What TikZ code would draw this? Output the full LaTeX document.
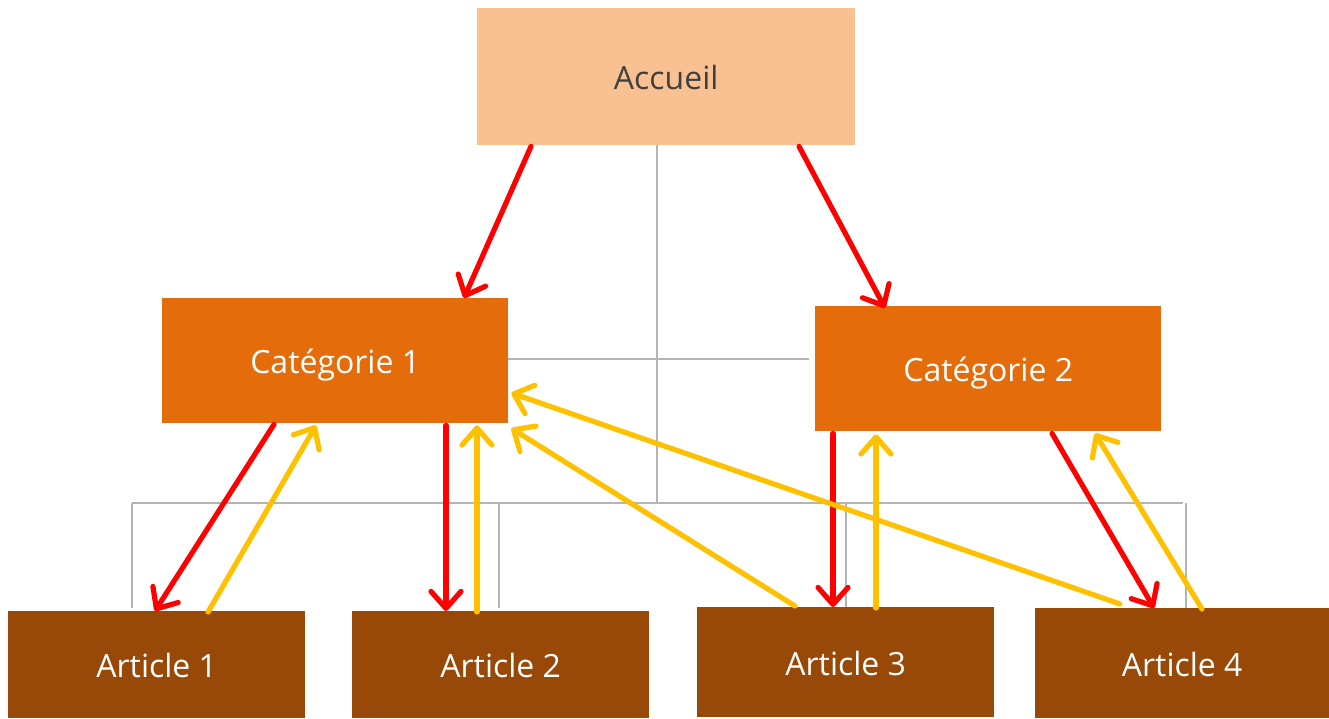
\documentclass[tikz,border=0pt]{standalone}
\usepackage{fontspec}
\setmainfont{Open Sans}
\usetikzlibrary{arrows.meta}
\definecolor{peach}{HTML}{F9C192}
\definecolor{catorange}{HTML}{E46C0A}
\definecolor{artbrown}{HTML}{984807}
\definecolor{busgrey}{HTML}{B4B4B4}
\definecolor{txtgrey}{HTML}{404040}
\definecolor{linkred}{HTML}{FF0000}
\definecolor{linkyellow}{HTML}{FFC000}
\tikzset{
  box/.style={anchor=north west, inner sep=0pt, text height=28pt, text depth=2pt, font=\fontsize{32}{38}\selectfont},
  homebox/.style={box, fill=peach, text=txtgrey},
  catbox/.style={box, fill=catorange, text=white},
  artbox/.style={box, fill=artbrown, text=white},
  bus/.style={draw=busgrey, line width=1.8pt},
  linkarrow/.style={line width=5.2pt, line cap=round, -{Straight Barb[length=17pt,width=30pt,round]}},
  down/.style={linkarrow, draw=linkred},
  up/.style={linkarrow, draw=linkyellow},
}
\begin{document}
\begin{tikzpicture}[x=1pt,y=-1pt]
\useasboundingbox (0,0) rectangle (1329,718);
% nodes
\node[homebox, minimum width=378pt, minimum height=137pt] (acc) at (477,8) {Accueil};
\node[catbox, minimum width=346pt, minimum height=125pt] (cat1) at (162,298) {Catégorie 1};
\node[catbox, minimum width=346pt, minimum height=125pt] (cat2) at (815,306) {Catégorie 2};
\node[artbox, minimum width=297pt, minimum height=107pt] (a1) at (8,611) {Article 1};
\node[artbox, minimum width=297pt, minimum height=107pt] (a2) at (352,611) {Article 2};
\node[artbox, minimum width=297pt, minimum height=110pt] (a3) at (697,607) {Article 3};
\node[artbox, minimum width=294pt, minimum height=110pt] (a4) at (1035,608) {Article 4};
% grey bus lines
\coordinate (busmid) at (657,503);
\coordinate (busL) at (132,503);
\coordinate (busR) at (1183,503);
\coordinate (cat2w) at (809,359);
\draw[bus] ([xshift=180pt]acc.south west) -- (busmid);
\draw[bus] ([yshift=-61pt]cat1.north east) -- (cat2w);
\draw[bus] (busL) -- (busR);
\draw[bus] (busL) -- ([xshift=124pt,yshift=3pt]a1.north west);
\draw[bus] ([xshift=367pt]busL) -- ([xshift=147pt,yshift=3pt]a2.north west);
\draw[bus] ([xshift=714pt]busL) -- ([xshift=149pt]a3.north west);
\draw[bus] ([xshift=3pt]busR) -- ([xshift=151pt]a4.north west);
% red arrows (down)
\draw[down] ([xshift=54pt,yshift=-1pt]acc.south west) -- ([xshift=302pt]cat1.north west);
\draw[down] ([xshift=322pt,yshift=-1pt]acc.south west) -- ([xshift=70pt,yshift=-2pt]cat2.north west);
\draw[down] ([xshift=112pt,yshift=-1pt]cat1.south west) -- ([xshift=147pt]a1.north west);
\draw[down] ([xshift=284pt,yshift=-2pt]cat1.south west) -- ([xshift=94pt]a2.north west);
\draw[down] ([xshift=18pt,yshift=-2pt]cat2.south west) -- ([xshift=136pt]a3.north west);
\draw[down] ([xshift=237pt,yshift=-2pt]cat2.south west) -- ([xshift=119pt]a4.north west);
% yellow arrows (up)
\draw[up] ([xshift=200pt,yshift=-1pt]a1.north west) -- ([xshift=154pt,yshift=-2pt]cat1.south west);
\draw[up] ([xshift=125pt,yshift=-1pt]a2.north west) -- ([xshift=315pt,yshift=-2pt]cat1.south west);
\draw[up] ([xshift=98pt,yshift=1pt]a3.north west) -- ([xshift=3pt,yshift=-5pt]cat1.south east);
\draw[up] ([xshift=85pt,yshift=4pt]a4.north west) -- ([xshift=3pt,yshift=-95pt]cat1.north east);
\draw[up] ([xshift=179pt,yshift=-1pt]a3.north west) -- ([xshift=61pt,yshift=-3pt]cat2.south west);
\draw[up] ([xshift=167pt,yshift=-1pt]a4.north west) -- ([xshift=280pt,yshift=-2pt]cat2.south west);
\end{tikzpicture}
\end{document}
